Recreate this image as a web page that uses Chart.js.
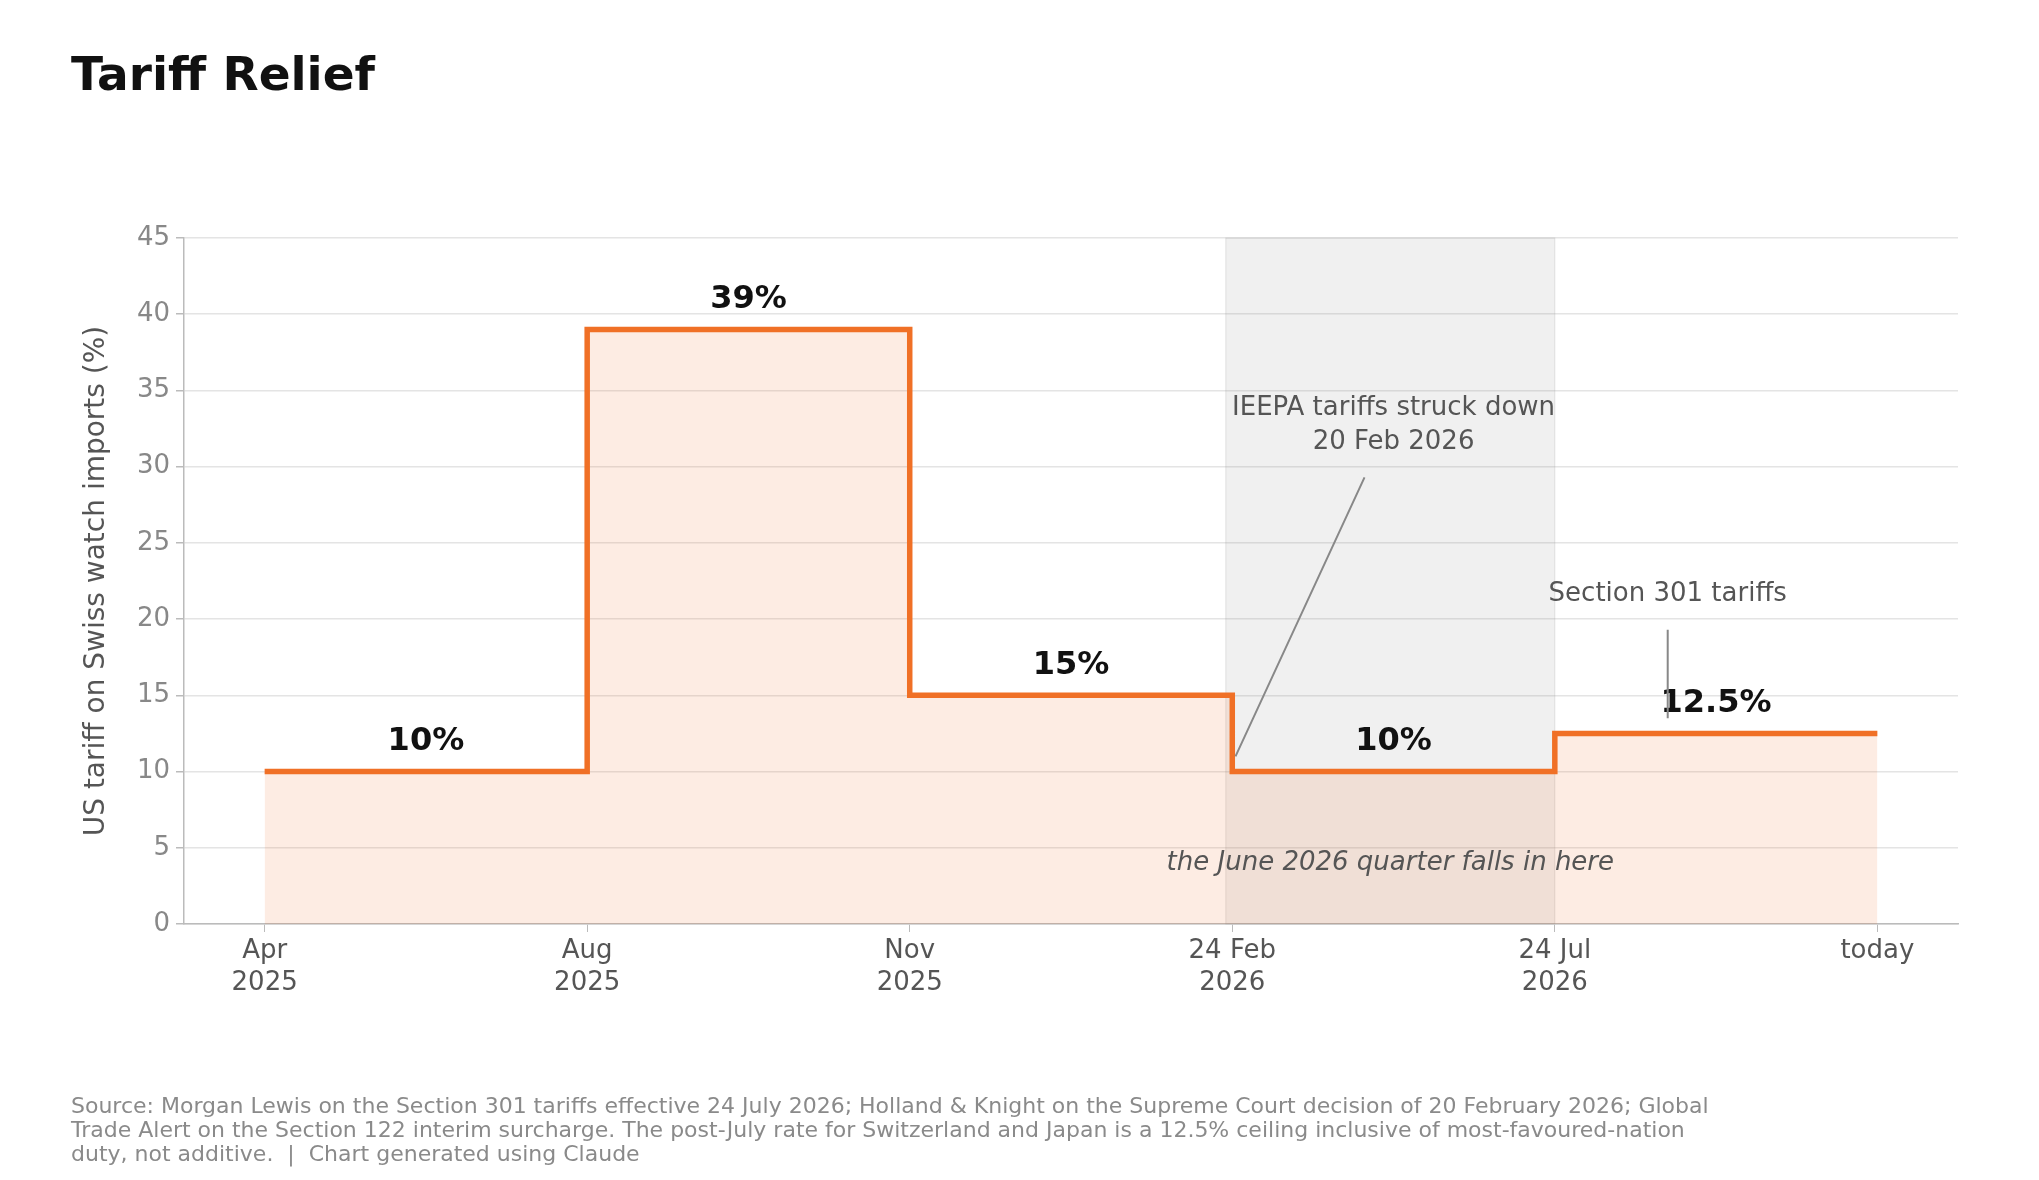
<!DOCTYPE html>
<html>
<head>
<meta charset="utf-8">
<script src="https://cdn.jsdelivr.net/npm/chart.js@4"></script>
<style>
  html, body { margin: 0; padding: 0; background: #fff; }
  #wrap { width: 2039px; height: 1180px; position: relative; }
</style>
</head>
<body>
<div id="wrap"><canvas id="c" width="2039" height="1180"></canvas></div>
<script>
const FONT = "'DejaVu Sans', sans-serif";

// Data
const tickLabels = [["Apr", "2025"], ["Aug", "2025"], ["Nov", "2025"], ["24 Feb", "2026"], ["24 Jul", "2026"], "today"];
const stepX = [0, 1, 2, 3, 4, 5];
const tariffRates = [10, 39, 15, 10, 12.5, 12.5];
const rateLabels = ["10%", "39%", "15%", "10%", "12.5%"];
const labelX = [0.5, 1.5, 2.5, 3.5, 4.5];
const labelY = [10, 39, 15, 10, 12.5];
const shadeRange = [2.98, 4.0];

const ORANGE = "#f07026";

// draws shaded window, value labels and notes through the scales
const notesPlugin = {
    id: "notes",
    beforeDatasetsDraw(chart) {
        let ctx = chart.ctx, x = chart.scales.x, y = chart.scales.y;
        ctx.save();
        ctx.fillStyle = "rgba(150,150,150,0.14)";
        ctx.strokeStyle = "rgba(150,150,150,0.25)";
        let x0 = x.getPixelForValue(shadeRange[0]), x1 = x.getPixelForValue(shadeRange[1]);
        ctx.fillRect(x0, y.top, x1 - x0, y.bottom - y.top);
        ctx.strokeRect(x0, y.top, x1 - x0, y.bottom - y.top);
        ctx.restore();
    },
    afterDatasetsDraw(chart) {
        let ctx = chart.ctx, x = chart.scales.x, y = chart.scales.y;
        ctx.save();
        ctx.textAlign = "center";
        ctx.textBaseline = "bottom";
        ctx.fillStyle = "#111";
        ctx.font = "bold 32px " + FONT;
        for (let i = 0; i < rateLabels.length; i++) {
            ctx.fillText(rateLabels[i], x.getPixelForValue(labelX[i]), y.getPixelForValue(labelY[i]) - 14);
        }

        ctx.fillStyle = "#555";
        ctx.font = "26px " + FONT;
        ctx.textBaseline = "middle";
        ctx.fillText("IEEPA tariffs struck down", x.getPixelForValue(3.5), y.getPixelForValue(33.8));
        ctx.fillText("20 Feb 2026", x.getPixelForValue(3.5), y.getPixelForValue(31.6));
        ctx.fillText("Section 301 tariffs", x.getPixelForValue(4.35), y.getPixelForValue(21.6));
        ctx.font = "italic 26px " + FONT;
        ctx.fillText("the June 2026 quarter falls in here", x.getPixelForValue(3.49), y.getPixelForValue(4.0));

        ctx.strokeStyle = "#888";
        ctx.lineWidth = 2;
        ctx.beginPath();
        ctx.moveTo(x.getPixelForValue(3.41), y.getPixelForValue(29.3));
        ctx.lineTo(x.getPixelForValue(3.01), y.getPixelForValue(11.0));
        ctx.moveTo(x.getPixelForValue(4.35), y.getPixelForValue(19.3));
        ctx.lineTo(x.getPixelForValue(4.35), y.getPixelForValue(13.5));
        ctx.stroke();

        // title and footer
        ctx.textAlign = "left";
        ctx.textBaseline = "alphabetic";
        ctx.fillStyle = "#111";
        ctx.font = "bold 47px " + FONT;
        ctx.fillText("Tariff Relief", 71, 90);
        ctx.fillStyle = "#8a8a8a";
        ctx.font = "22px " + FONT;
        ctx.fillText("Source: Morgan Lewis on the Section 301 tariffs effective 24 July 2026; Holland & Knight on the Supreme Court decision of 20 February 2026; Global", 71, 1113);
        ctx.fillText("Trade Alert on the Section 122 interim surcharge. The post-July rate for Switzerland and Japan is a 12.5% ceiling inclusive of most-favoured-nation", 71, 1137);
        ctx.fillText("duty, not additive.  |  Chart generated using Claude", 71, 1161);
        ctx.restore();
    }
};

new Chart(document.getElementById("c").getContext("2d"), {
    type: "line",
    data: {
        datasets: [{
            data: stepX.map((v, i) => ({x: v, y: tariffRates[i]})),
            stepped: "before",
            borderColor: ORANGE,
            borderWidth: 5.5,
            fill: "origin",
            backgroundColor: "rgba(240,112,38,0.13)",
            pointRadius: 0,
        }]
    },
    options: {
        responsive: false,
        animation: false,
        layout: { padding: { top: 238, right: 81, left: 76, bottom: 0 } },
        plugins: { legend: { display: false }, tooltip: { enabled: false } },
        scales: {
            x: {
                type: "linear",
                min: -0.25,
                max: 5.25,
                afterFit(s) { s.height = 1180 - 924; },
                afterBuildTicks(s) { s.ticks = stepX.map(v => ({value: v})); },
                ticks: {
                    autoSkip: false,
                    maxRotation: 0,
                    color: "#555",
                    font: { family: FONT, size: 26 },
                    padding: 4,
                    callback: (v) => tickLabels[v],
                },
                grid: { drawOnChartArea: false, drawTicks: true, tickLength: 8, color: "#bbb" },
                border: { color: "#bbb", width: 1.5 },
            },
            y: {
                min: 0,
                max: 45,
                afterFit(s) { s.width = 108; },
                ticks: {
                    stepSize: 5,
                    color: "#888",
                    font: { family: FONT, size: 26 },
                    padding: 6,
                },
                grid: { color: "#e4e4e4", lineWidth: 1.5, tickLength: 8, tickColor: "#bbb" },
                border: { color: "#bbb", width: 1.5 },
                title: {
                    display: true,
                    text: "US tariff on Swiss watch imports (%)",
                    color: "#555",
                    font: { family: FONT, size: 28 },
                    padding: { bottom: 4 },
                },
            }
        }
    },
    plugins: [notesPlugin]
});
</script>
</body>
</html>
